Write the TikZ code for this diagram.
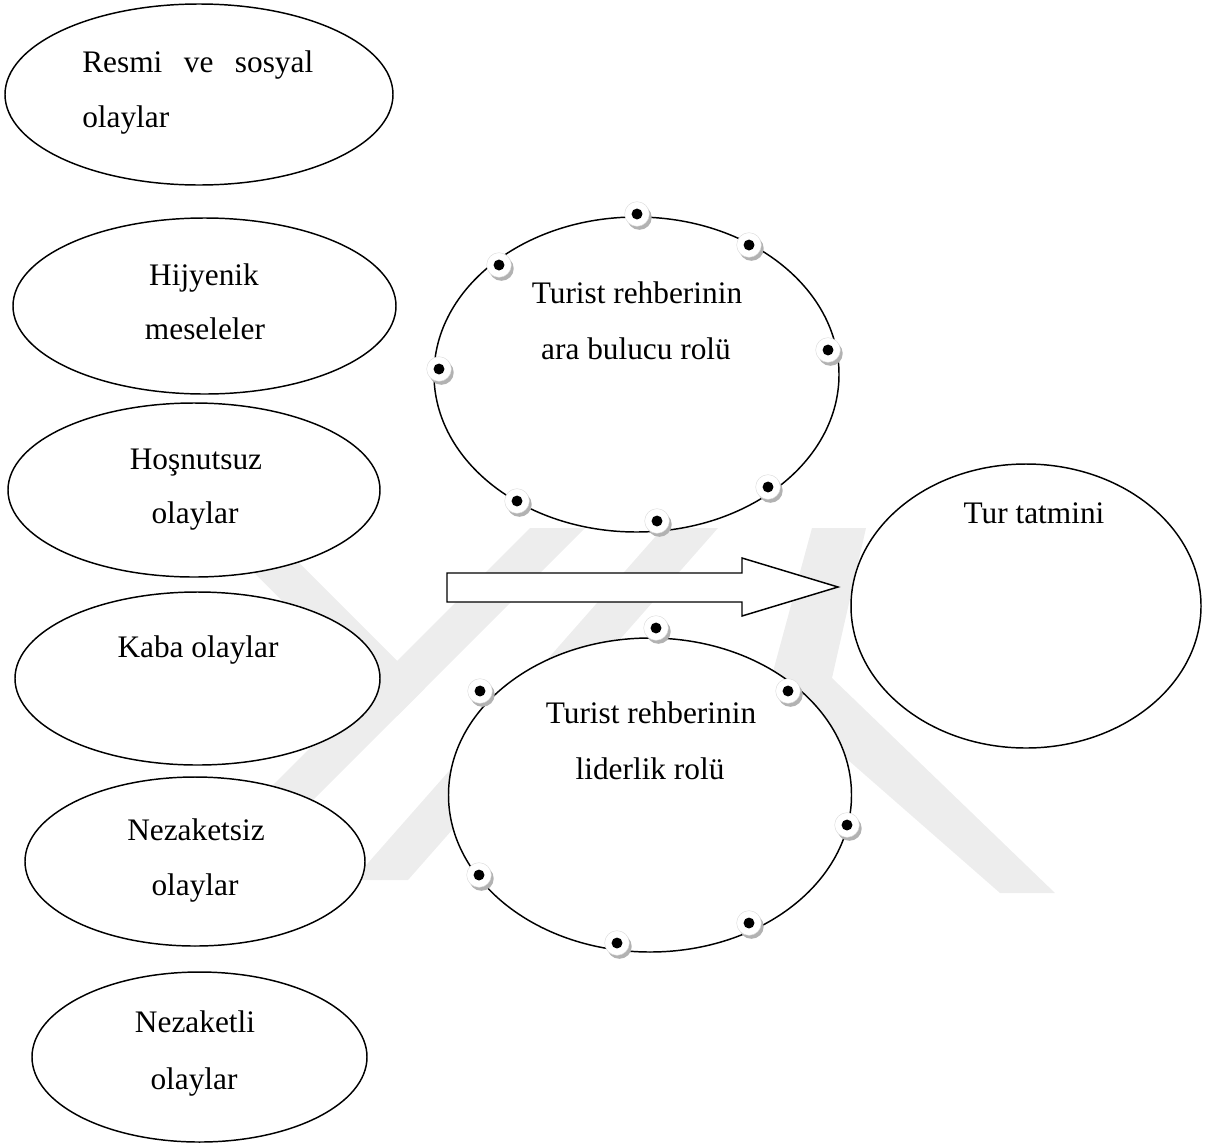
\documentclass[tikz,border=0pt]{standalone}
\usepackage{fontspec}
\setmainfont{Liberation Serif}
\usetikzlibrary{shapes.geometric,shadows}
\definecolor{wm}{RGB}{237,237,237}
\begin{document}
\begin{tikzpicture}[x=0.75pt,y=-0.75pt,
  oval/.style={ellipse, draw=black, line width=1.1pt, fill=white, inner sep=0pt, outer sep=0pt},
  lbl/.style={font=\fontsize{23.5}{42}\selectfont, inner sep=0pt, anchor=base},
  dotmark/.style={circle, fill=white, draw=black!15, line width=0.3pt, minimum size=18.5pt, inner sep=0pt,
    drop shadow={shadow xshift=1.8pt, shadow yshift=-2.6pt, fill=black!30, opacity=1}},
  blockarrow/.style={draw=black, line width=1.1pt, fill=white, line join=miter}
]
\useasboundingbox (0,0) rectangle (1205,1146);

% watermark
\fill[wm] (530,528) -- (585,528) -- (243,870) -- (188,870) -- cycle;
\fill[wm] (201.5,520) -- (256.5,520) -- (424.75,688.25) -- (397.25,715.75) -- cycle;
\fill[wm] (663,528) -- (718,528) -- (408,880) -- (353,880) -- cycle;
\fill[wm] (812,528) -- (866,528) -- (832,678) -- (1055,893) -- (1000,893) -- (768,690) -- cycle;

% left column
\node[oval, minimum width=291pt, minimum height=135.75pt] (e1) at (199,94.5) {};
\node[oval, minimum width=287.25pt, minimum height=132pt] (e2) at (204.5,306) {};
\node[oval, minimum width=279pt, minimum height=130.5pt] (e3) at (194,490) {};
\node[oval, minimum width=273.75pt, minimum height=129.75pt] (e4) at (197.5,678.5) {};
\node[oval, minimum width=255pt, minimum height=126.75pt] (e5) at (195,861.5) {};
\node[oval, minimum width=251.25pt, minimum height=127.5pt] (e6) at (199.5,1057) {};

\node[lbl, anchor=base west] (t1a) at (82,72) {\makebox[173.25pt][s]{Resmi ve sosyal}};
\node[lbl, anchor=base west] (t1b) at (82,127) {olaylar};
\node[lbl] (t2a) at (204,285) {Hijyenik};
\node[lbl] (t2b) at (205,339) {meseleler};
\node[lbl] (t3a) at (196,469) {Hoşnutsuz};
\node[lbl] (t3b) at (195,523) {olaylar};
\node[lbl] (t4a) at (198,657) {Kaba olaylar};
\node[lbl] (t5a) at (196,840) {Nezaketsiz};
\node[lbl] (t5b) at (195,895) {olaylar};
\node[lbl] (t6a) at (195,1032) {Nezaketli};
\node[lbl] (t6b) at (194,1089) {olaylar};

% centre ellipses
\node[oval, minimum width=303.75pt, minimum height=236.25pt] (ea) at (636.5,374.5) {};
\node[oval, minimum width=302.25pt, minimum height=235.5pt] (eb) at (650,795) {};
\node[lbl] (taa) at (637,303) {Turist rehberinin};
\node[lbl] (tab) at (636,359) {ara bulucu rolü};
\node[lbl] (tba) at (651,723) {Turist rehberinin};
\node[lbl] (tbb) at (650,779) {liderlik rolü};

% right circle
\node[oval, minimum width=262.5pt, minimum height=213pt] (ec) at (1026,606) {};
\node[lbl] (tc) at (1034,523) {Tur tatmini};

% block arrow
\draw[blockarrow] (447,573) -- (742,573) -- (742,558) -- (838,587) -- (742,616) -- (742,602) -- (447,602) -- cycle;

% dots on the ellipses
\foreach \n/\x/\y in {a1/637/214, a2/749/245, a3/499/265, a4/828/350, a5/439/369, a6/768/487, a7/517/501, a8/657/521,
                      b1/656/628, b2/480/691, b3/788/691, b4/847/825, b5/479/875, b6/749/923, b7/617/943}{
  \node[dotmark] (\n) at (\x,\y) {};
  \fill[black] (\n.center) circle (4.1pt);
}
\end{tikzpicture}
\end{document}
